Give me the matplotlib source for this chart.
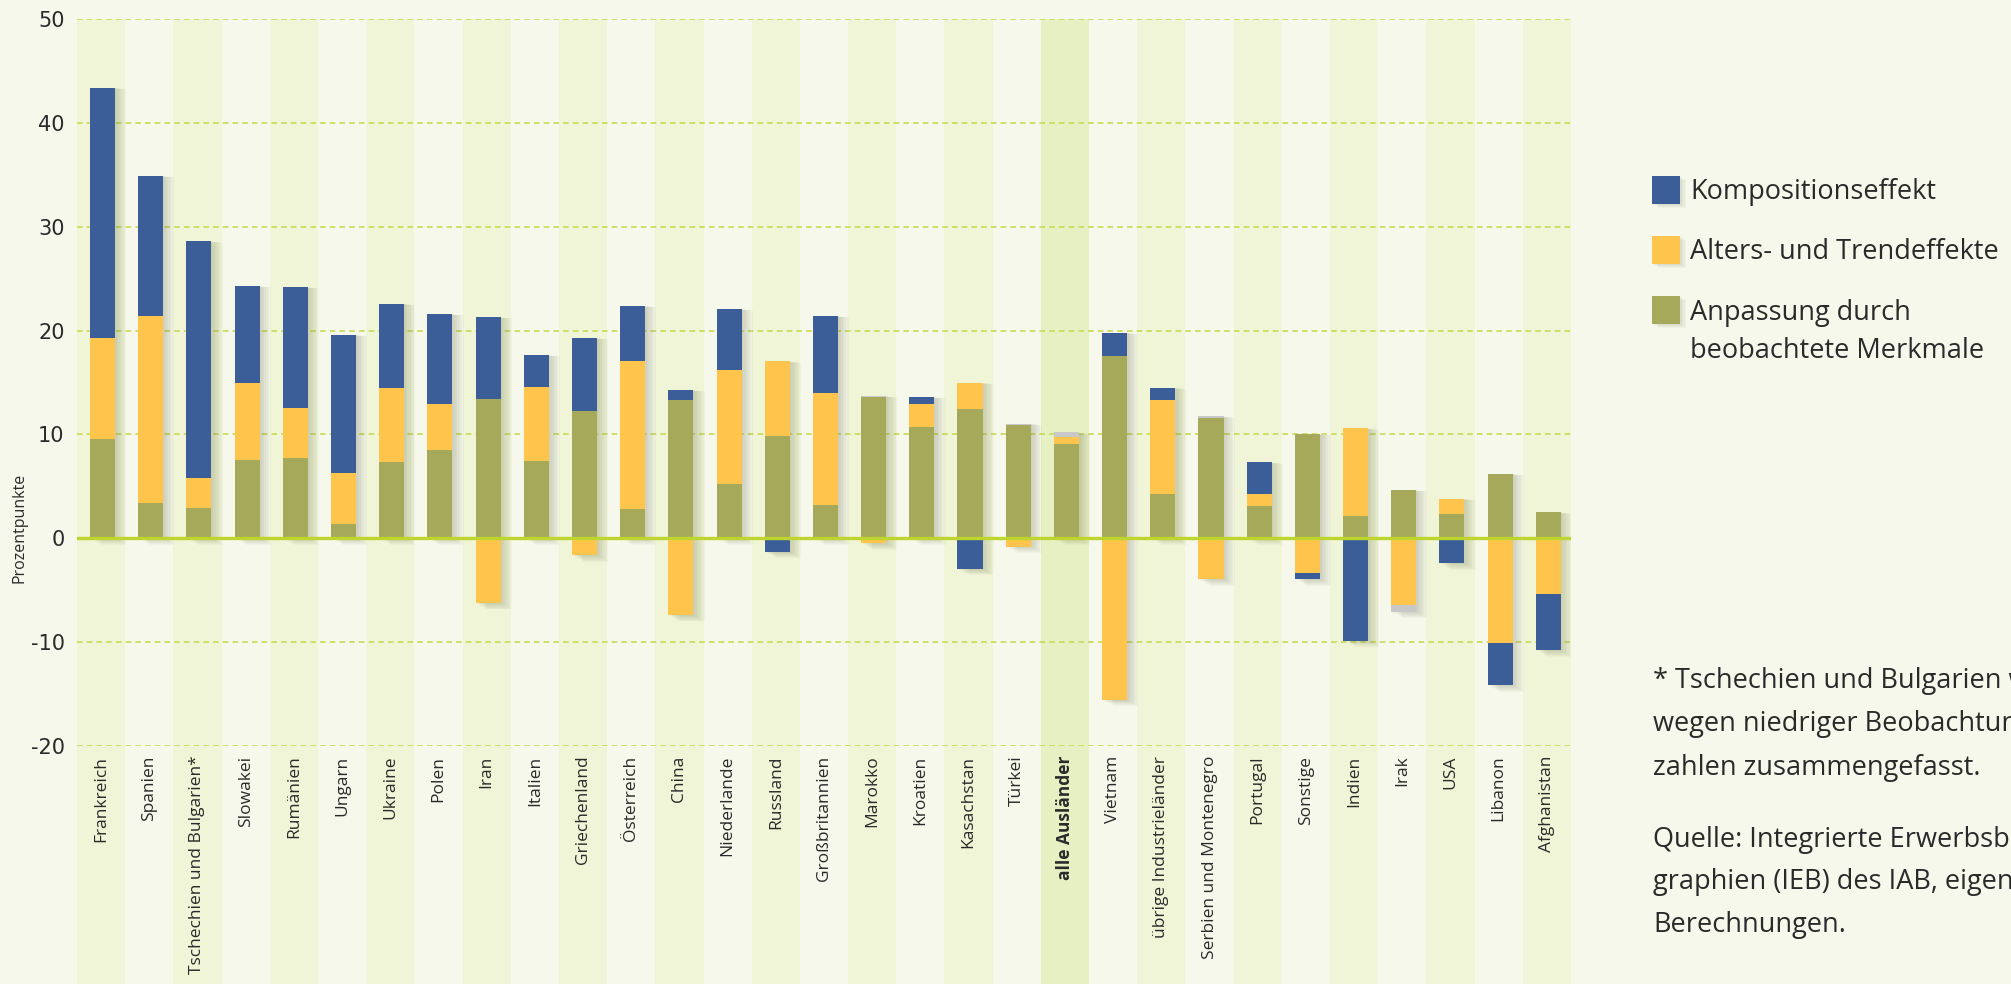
import matplotlib
matplotlib.use("Agg")
import matplotlib.pyplot as plt
from matplotlib.patches import Rectangle
import numpy as np

plt.rcParams['lines.scale_dashes'] = False

categories = ["Frankreich", "Spanien", "Tschechien und Bulgarien*", "Slowakei", "Rumänien",
              "Ungarn", "Ukraine", "Polen", "Iran", "Italien", "Griechenland", "Österreich",
              "China", "Niederlande", "Russland", "Großbritannien", "Marokko", "Kroatien",
              "Kasachstan", "Türkei", "alle Ausländer", "Vietnam", "übrige Industrieländer",
              "Serbien und Montenegro", "Portugal", "Sonstige", "Indien", "Irak", "USA",
              "Libanon", "Afghanistan"]

# Anpassung durch beobachtete Merkmale
anpassung = [9.6, 3.4, 2.9, 7.55, 7.75, 1.4, 7.35, 8.5, 13.4, 7.45, 12.25, 2.8,
             13.3, 5.25, 9.85, 3.2, 13.6, 10.7, 12.45, 10.9, 9.1, 17.55, 4.25,
             11.55, 3.1, 10.05, 2.15, 4.65, 2.3, 6.2, 2.5]
# Alters- und Trendeffekte
alters = [9.7, 18.0, 2.9, 7.45, 4.75, 4.9, 7.15, 4.45, -6.25, 7.1, -1.65, 14.25,
          -7.4, 10.95, 7.2, 10.8, -0.5, 2.25, 2.55, -0.8, 0.65, -15.55, 9.05,
          -3.95, 1.15, -3.35, 8.45, -6.45, 1.5, -10.1, -5.4]
# Kompositionseffekt
komposition = [24.1, 13.5, 22.8, 9.3, 11.7, 13.3, 8.1, 8.65, 7.9, 3.1, 7.05, 5.35,
               1.0, 5.9, -1.3, 7.4, 0.0, 0.65, -2.95, 0.0, 0.0, 2.25, 1.2,
               0.0, 3.07, -0.6, -9.85, 0.0, -2.4, -4.05, -5.4]
# Rest (grau, ohne Legende)
rest = [0, 0, 0, 0, 0, 0, 0, 0, 0, 0, 0, 0, 0, 0, 0, 0, 0.1, 0, 0, 0.15, 0.45, 0, 0,
        0.2, 0, 0, 0, -0.6, 0, 0, 0]

legend_labels = ["Kompositionseffekt", "Alters- und Trendeffekte",
                 "Anpassung durch\nbeobachtete Merkmale"]
footnote = ["* Tschechien und Bulgarien wurden",
            "wegen niedriger Beobachtungs-",
            "zahlen zusammengefasst."]
source = ["Quelle: Integrierte Erwerbsbio-",
          "graphien (IEB) des IAB, eigene",
          "Berechnungen."]
yticks = [-20, -10, 0, 10, 20, 30, 40, 50]

C_BLUE = "#3B5E99"
C_ORANGE = "#FEC44C"
C_GREEN = "#A6A85A"
C_GREY = "#C8C8C8"
BG = "#F6F8EB"
BAND = "#EFF5D6"
BAND_HL = "#E7F0C3"
GRID = "#CBDD5C"
ZERO = "#BDD52E"
TXT = "#2A2A2A"
FONT = ["Open Sans", "DejaVu Sans"]

W, H = 2011, 984
fig = plt.figure(figsize=(W / 100, H / 100), dpi=100, facecolor=BG)

ax_left = 77 / W
ax_w = 1494 / W
ax_bottom = 238 / H
ax_top = 965 / H

n = len(categories)
x = np.arange(n)

# background bands reaching down to the bottom of the figure
bg = fig.add_axes([ax_left, 0, ax_w, ax_top], zorder=0)
bg.set_xlim(-0.5, n - 0.5)
bg.set_ylim(0, 1)
bg.axis("off")
for i in range(n):
    if categories[i] == "alle Ausländer":
        bg.axvspan(i - 0.5, i + 0.5, color=BAND_HL, lw=0)
    elif i % 2 == 0:
        bg.axvspan(i - 0.5, i + 0.5, color=BAND, lw=0)

ax = fig.add_axes([ax_left, ax_bottom, ax_w, ax_top - ax_bottom], zorder=1)
ax.patch.set_alpha(0)
ax.set_xlim(-0.5, n - 0.5)
ax.set_ylim(-20, 50)
for s in ax.spines.values():
    s.set_visible(False)

for v in yticks:
    if v != 0:
        ax.axhline(v, color=GRID, lw=1.3, dashes=(4, 3), zorder=1)

series = [(np.array(anpassung), C_GREEN), (np.array(alters), C_ORANGE),
          (np.array(komposition), C_BLUE), (np.array(rest), C_GREY)]

bw = 0.52
pos_base = np.zeros(n)
neg_base = np.zeros(n)
for vals, col in series:
    pos = np.where(vals > 0, vals, 0)
    neg = np.where(vals < 0, vals, 0)
    ax.bar(x + 0.03, pos, bw, bottom=pos_base, color=col, lw=0, zorder=4)
    ax.bar(x + 0.03, neg, bw, bottom=neg_base, color=col, lw=0, zorder=4)
    pos_base += pos
    neg_base += neg

# soft drop shadow
px_x = 1 / 48.2
px_y = 70 / 727
for k in range(1, 8):
    ax.bar(x + 0.03 + k * 1.6 * px_x, pos_base - neg_base + 2 * k * 0.35 * px_y, bw,
           bottom=neg_base - k * 0.9 * px_y, color="#6E7050", alpha=0.045, lw=0, zorder=3)

ax.axhline(0, color=ZERO, lw=2.4, zorder=5)

ax.set_yticks(yticks)
ax.set_yticklabels([str(v) for v in yticks], family=["Liberation Sans Narrow", "DejaVu Sans"],
                   fontsize=15, color=TXT)
ax.tick_params(axis="y", length=0, pad=9)
ax.set_xticks(x)
ax.set_xticklabels(categories, rotation=90, fontsize=12.5, color=TXT,
                   family=FONT, va="top", ha="center")
ax.tick_params(axis="x", length=0, pad=7)
for lab in ax.get_xticklabels():
    if lab.get_text() == "alle Ausländer":
        lab.set_fontweight("bold")

fig.text(20 / W, 1 - 528 / H, "Prozentpunkte", rotation=90, ha="center", va="center",
         fontsize=11.5, color=TXT, family=FONT)

# legend
FS = 19.5
leg_cols = [C_BLUE, C_ORANGE, C_GREEN]
leg_box_top = [176, 236, 296]
leg_text_y = [[192], [252], [313, 351]]
for col, lab, bt, tys in zip(leg_cols, legend_labels, leg_box_top, leg_text_y):
    for k in range(1, 5):
        fig.add_artist(Rectangle(((1652 + k * 1.5) / W, 1 - (bt + 28 + k) / H), 28 / W, 28 / H,
                                 transform=fig.transFigure, color="#6E7050", alpha=0.05, lw=0))
    fig.add_artist(Rectangle((1652 / W, 1 - (bt + 28) / H), 28 / W, 28 / H,
                             transform=fig.transFigure, color=col, lw=0))
    for line, ty in zip(lab.split("\n"), tys):
        fig.text(1690 / W, 1 - ty / H, line, ha="left", va="center",
                 fontsize=FS, color=TXT, family=FONT)

for i, line in enumerate(footnote):
    fig.text(1653 / W, 1 - (681 + 43.5 * i) / H, line, ha="left", va="center",
             fontsize=FS, color=TXT, family=FONT)
for i, line in enumerate(source):
    fig.text(1653 / W, 1 - (840 + 42.5 * i) / H, line, ha="left", va="center",
             fontsize=FS, color=TXT, family=FONT)

fig.savefig("out.png", dpi=100, facecolor=BG)
